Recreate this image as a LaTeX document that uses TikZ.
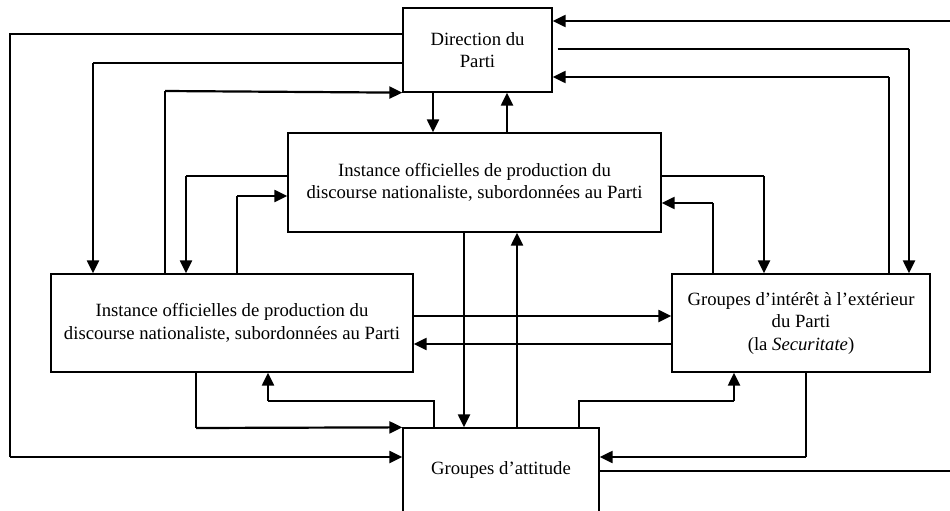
\documentclass[tikz,border=0pt]{standalone}
\usepackage{fontspec}
\setmainfont{Liberation Serif}
\usetikzlibrary{arrows.meta}
\tikzset{
  boite/.style={draw, line width=1.3pt, align=center, inner sep=0pt, font=\fontsize{18.7}{22.5}\selectfont},
  lien/.style={line width=1.2pt},
  fleche/.style={line width=2.2pt, -{Triangle[length=13pt,width=12pt]}},
}
\begin{document}
\begin{tikzpicture}[x=1pt,y=-1pt]
\useasboundingbox (0,0) rectangle (950,511);
\clip (0,0) rectangle (950,511);
% les instances
\node[boite, minimum width=149pt, minimum height=84pt] (dir) at (477.5,50) {Direction du\\Parti};
\node[boite, minimum width=373pt, minimum height=99pt] (centre) at (474.5,182.5) {Instance officielles de production du\\discourse nationaliste, subordonnées au Parti};
\node[boite, minimum width=362pt, minimum height=98pt] (gauche) at (232,323) {Instance officielles de production du\\discourse nationaliste, subordonnées au Parti};
\node[boite, minimum width=258pt, minimum height=98pt] (droite) at (801,323) {Groupes d’intérêt à l’extérieur\\du Parti\\(la \textit{Securitate})};
\node[boite, minimum width=196pt, minimum height=84pt] (attitude) at (501,470) {Groupes d’attitude};
% Direction -> attitude, par la gauche
\draw[lien] (dir.west |- 0,34) -| (10,457);
\draw[fleche] (10,457) -- (attitude.west |- 0,457);
% Direction <-> gauche
\draw[lien] (dir.west |- 0,63) -- (93,63);
\draw[fleche] (93,63) -- (gauche.north -| 93,0);
\draw[lien] (gauche.north -| 165,0) -- (165,91);
\draw[fleche] (165,91) -- (dir.south west);
% centre <-> gauche
\draw[lien] (centre.west |- 0,176) -- (186,176);
\draw[fleche] (186,176) -- (gauche.north -| 186,0);
\draw[lien] (gauche.north -| 237,0) -- (237,196);
\draw[fleche] (237,196) -- (centre.west |- 0,196);
% Direction <-> centre
\draw[fleche] (dir.south -| 433,0) -- (centre.north -| 433,0);
\draw[fleche] (centre.north -| 507,0) -- (dir.south -| 507,0);
% attitude -> Direction, par la droite
\draw[lien] (attitude.east |- 0,471) -- (960,471) -- (960,21);
\draw[fleche] (960,21) -- (dir.east |- 0,21);
% Direction <-> droite
\draw[lien, shorten <=5pt] (dir.east |- 0,49) -- (909,49);
\draw[fleche] (909,49) -- (droite.north -| 909,0);
\draw[lien] (droite.north -| 889,0) -- (889,77);
\draw[fleche] (889,77) -- (dir.east |- 0,77);
% centre <-> droite
\draw[lien] (centre.east |- 0,176) -- (764,176);
\draw[fleche] (764,176) -- (droite.north -| 764,0);
\draw[lien] (droite.north -| 713,0) -- (713,203);
\draw[fleche] (713,203) -- (centre.east |- 0,203);
% centre <-> attitude
\draw[fleche] (centre.south -| 464,0) -- (attitude.north -| 464,0);
\draw[fleche] (attitude.north -| 517,0) -- (centre.south -| 517,0);
% gauche <-> droite
\draw[fleche] (gauche.east |- 0,316) -- (droite.west |- 0,316);
\draw[fleche] (droite.west |- 0,344) -- (gauche.east |- 0,344);
% gauche <-> attitude
\draw[lien] (gauche.south -| 196,0) -- (196,428);
\draw[fleche] (196,428) -- (attitude.north west);
\draw[lien] (attitude.north -| 434,0) -- (434,401) -- (268,401);
\draw[fleche] (268,401) -- (gauche.south -| 268,0);
% droite <-> attitude
\draw[lien] (attitude.north -| 579,0) -- (579,401) -- (734,401);
\draw[fleche] (734,401) -- (droite.south -| 734,0);
\draw[lien] (droite.south -| 806,0) -- (806,457);
\draw[fleche] (806,457) -- (attitude.east |- 0,457);
\end{tikzpicture}
\end{document}
